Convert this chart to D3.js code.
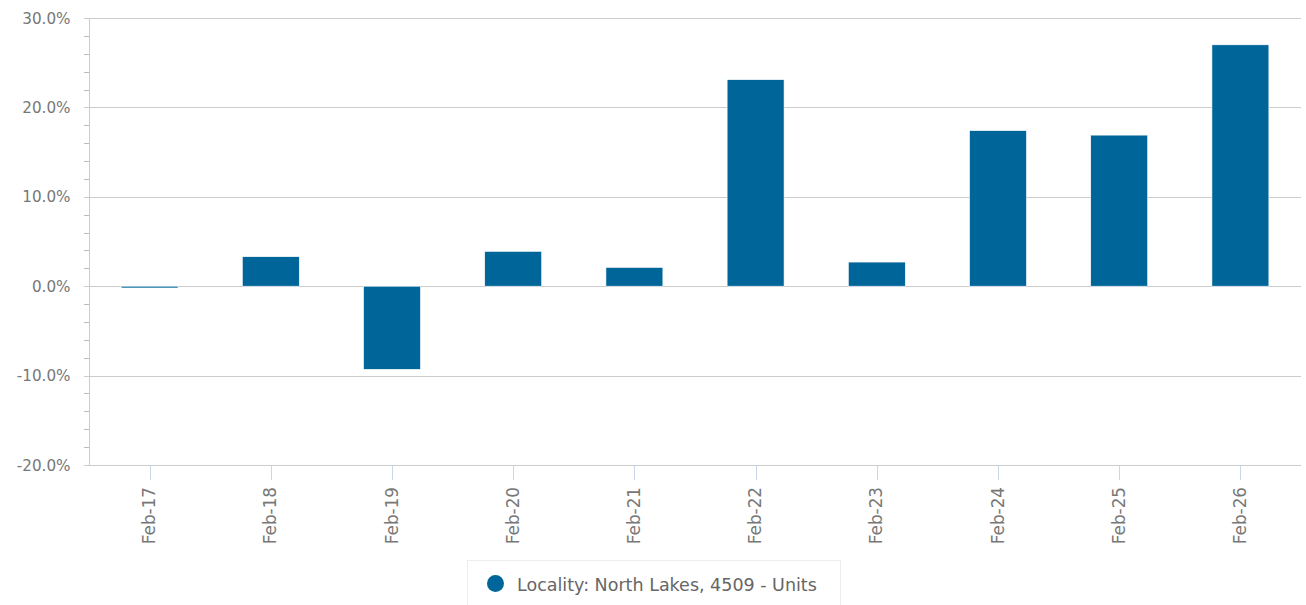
<!DOCTYPE html>
<html><head><meta charset="utf-8">
<script src="https://cdn.jsdelivr.net/npm/d3@7"></script>
<style>body{margin:0;background:#fff;}</style>
</head><body><svg id="c" width="1306" height="605" font-family="DejaVu Sans"></svg>
<script>
const categories = ["Feb-17","Feb-18","Feb-19","Feb-20","Feb-21","Feb-22","Feb-23","Feb-24","Feb-25","Feb-26"];
const values = [-0.2, 3.3, -9.3, 3.9, 2.1, 23.1, 2.7, 17.4, 16.9, 27.0];
const yTicks = [-20, -10, 0, 10, 20, 30];
const seriesName = "Locality: North Lakes, 4509 - Units";

const svg = d3.select("#c");
const FONT = "DejaVu Sans";
const L = 89, R = 1301, T = 18, B = 465;
const x = d3.scaleBand().domain(categories).range([L, R]).paddingInner(0.53).paddingOuter(0.265);
const y = d3.scaleLinear().domain([-20, 30]).range([B, T]);

// gridlines
svg.append("g").selectAll("line").data(yTicks).join("line")
  .attr("x1", L - 5).attr("x2", R).attr("y1", d => Math.round(y(d)) + 0.5).attr("y2", d => Math.round(y(d)) + 0.5)
  .attr("stroke", "#cccccc").attr("stroke-width", 1);
// minor ticks
const minor = d3.range(-20, 30.01, 2).filter(v => v % 10 !== 0);
svg.append("g").selectAll("line").data(minor).join("line")
  .attr("x1", L - 5).attr("x2", L).attr("y1", d => Math.round(y(d)) + 0.5).attr("y2", d => Math.round(y(d)) + 0.5)
  .attr("stroke", "#bbbbbb");
// y axis line
svg.append("line").attr("x1", L + 0.5).attr("x2", L + 0.5).attr("y1", T).attr("y2", B).attr("stroke", "#cccccc");
// y labels
svg.append("g").selectAll("text").data(yTicks).join("text")
  .attr("x", 70.5).attr("y", d => y(d) + 5.5).attr("text-anchor", "end").attr("font-family", FONT)
  .attr("font-size", 15.2).attr("fill", "#777").text(d => d.toFixed(1) + "%");

// bars
svg.append("g").selectAll("rect").data(values).join("rect")
  .attr("x", (d, i) => x(categories[i]))
  .attr("width", x.bandwidth())
  .attr("y", d => y(Math.max(0, d)))
  .attr("height", d => Math.max(1.5, Math.abs(y(d) - y(0))))
  .attr("fill", "#006699").attr("stroke", "#ffffff").attr("stroke-width", 0.6);

// x axis
svg.append("line").attr("x1", L).attr("x2", R).attr("y1", B + 0.5).attr("y2", B + 0.5).attr("stroke", "#cccccc").attr("stroke-width", 1.2);
const xg = svg.append("g");
xg.selectAll("line").data(categories).join("line")
  .attr("x1", d => Math.round(x(d) + x.bandwidth() / 2) + 0.5).attr("x2", d => Math.round(x(d) + x.bandwidth() / 2) + 0.5)
  .attr("y1", B + 1).attr("y2", B + 15).attr("stroke", "#ccd6eb");
xg.selectAll("text").data(categories).join("text")
  .attr("transform", d => `translate(${x(d) + x.bandwidth() / 2 + 5.5},487) rotate(-90)`)
  .attr("text-anchor", "end").attr("font-family", FONT).attr("font-size", 16.8).attr("fill", "#777").text(d => d);

// legend
const lg = svg.append("g");
lg.append("rect").attr("x", 467.5).attr("y", 560.5).attr("width", 373).attr("height", 50)
  .attr("fill", "#fff").attr("stroke", "#eeeeee");
lg.append("circle").attr("cx", 495.5).attr("cy", 583.5).attr("r", 8.5).attr("fill", "#006699");
lg.append("text").attr("x", 517).attr("y", 590.5).attr("font-family", FONT).attr("font-size", 17.5)
  .attr("fill", "#666").text(seriesName);
</script></body></html>
